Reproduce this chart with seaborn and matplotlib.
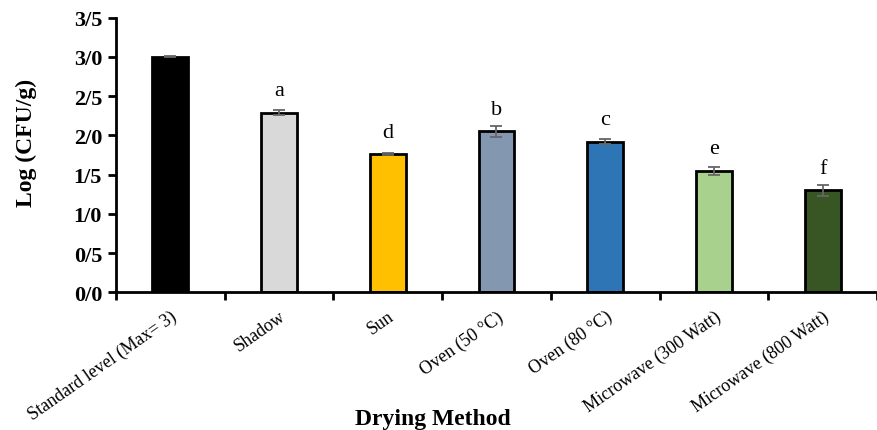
import matplotlib
matplotlib.use("Agg")
import matplotlib.pyplot as plt
import seaborn as sns
import pandas as pd
from matplotlib.ticker import FixedLocator, FuncFormatter

categories = ["Standard level (Max= 3)", "Shadow", "Sun", "Oven (50 \u00b0C)",
              "Oven (80 \u00b0C)", "Microwave (300 Watt)", "Microwave (800 Watt)"]
values = [3.00, 2.29, 1.76, 2.05, 1.92, 1.55, 1.30]
errors = [0.005, 0.03, 0.012, 0.07, 0.03, 0.05, 0.07]
letters = ["", "a", "d", "b", "c", "e", "f"]
colors = ["#000000", "#D9D9D9", "#FFC000", "#8497B0", "#2E75B6", "#A9D18E", "#375623"]
yticks = [0.0, 0.5, 1.0, 1.5, 2.0, 2.5, 3.0, 3.5]

sns.set_theme(style="white")
plt.rcParams["font.family"] = ["Liberation Serif", "DejaVu Serif"]
plt.rcParams["text.color"] = "black"
plt.rcParams["axes.labelcolor"] = "black"
plt.rcParams["xtick.color"] = "black"
plt.rcParams["ytick.color"] = "black"

df = pd.DataFrame({"method": categories, "value": values})

W, H = 877, 431
L, B, T = 116, 293.3, 18.5
fig = plt.figure(figsize=(W / 100, H / 100), dpi=100)
ax = fig.add_axes([L / W, 1 - B / H, (W - L) / W, (B - T) / H])

sns.barplot(data=df, x="method", y="value", hue="method", palette=colors,
            order=categories, hue_order=categories, legend=False, saturation=1,
            width=0.33, edgecolor="black", linewidth=2, errorbar=None, ax=ax)

ax.errorbar(range(len(categories)), values, yerr=errors, fmt="none",
            ecolor="#666666", elinewidth=1.3, capsize=4, capthick=1.3, zorder=5)

for i, (v, e, t) in enumerate(zip(values, errors, letters)):
    if t:
        ax.text(i, v + 0.28, t, ha="center", va="center", fontsize=16, color="black")

ax.set_xlim(-0.5, 6.42)
ax.set_ylim(0, 3.5)
ax.yaxis.set_major_locator(FixedLocator(yticks))
ax.yaxis.set_major_formatter(FuncFormatter(lambda v, p: f"{v:.1f}".replace(".", "/")))
for lab in ax.get_yticklabels():
    lab.set_fontweight("bold")
    lab.set_fontsize(16)

ax.set_xticks(range(len(categories)))
ax.set_xticklabels(categories, rotation=35, ha="right", rotation_mode="anchor", fontsize=13)
ax.set_xticks([i - 0.5 for i in range(len(categories) + 1)], minor=True)
ax.tick_params(axis="x", which="major", length=0, pad=11)
ax.tick_params(axis="x", which="minor", length=6, width=2, direction="out", color="black", bottom=True)
ax.tick_params(axis="y", which="major", length=6, width=2, direction="out", color="black", left=True, pad=4)

for s in ["top", "right"]:
    ax.spines[s].set_visible(False)
for s in ["left", "bottom"]:
    ax.spines[s].set_color("black")
    ax.spines[s].set_linewidth(2)

ax.set_xlabel("Drying Method", fontsize=17, fontweight="bold")
ax.set_ylabel("Log (CFU/g)", fontsize=17, fontweight="bold")
ax.xaxis.set_label_coords((433 - L) / (W - L), -(409 - B) / (B - T))
ax.yaxis.set_label_coords(-(L - 37) / (W - L), (B - 143) / (B - T))

fig.savefig("out.png", dpi=100)
